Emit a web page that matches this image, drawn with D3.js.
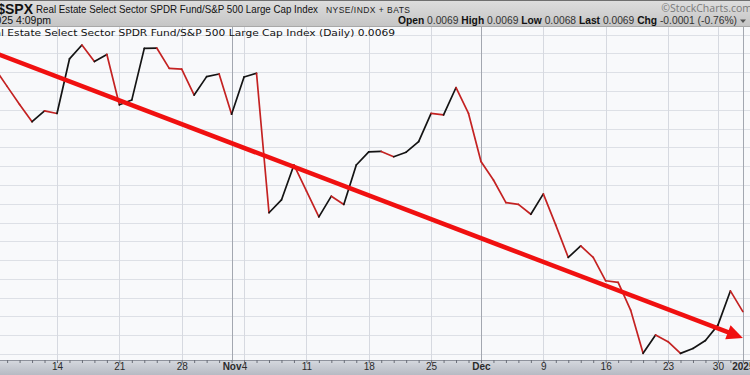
<!DOCTYPE html>
<html>
<head>
<meta charset="utf-8">
<script src="https://cdn.jsdelivr.net/npm/d3@7"></script>
<style>
  body { margin: 0; background: #fff; }
  svg { display: block; font-family: "Liberation Sans", Arial, sans-serif; }
</style>
</head>
<body>
<script>
  // trading days shown (Oct 7 2024 .. Jan 2 2025, holidays skipped)
  var dates = [
    "2024-10-07","2024-10-08","2024-10-09","2024-10-10","2024-10-11",
    "2024-10-14","2024-10-15","2024-10-16","2024-10-17","2024-10-18",
    "2024-10-21","2024-10-22","2024-10-23","2024-10-24","2024-10-25",
    "2024-10-28","2024-10-29","2024-10-30","2024-10-31","2024-11-01",
    "2024-11-04","2024-11-05","2024-11-06","2024-11-07","2024-11-08",
    "2024-11-11","2024-11-12","2024-11-13","2024-11-14","2024-11-15",
    "2024-11-18","2024-11-19","2024-11-20","2024-11-21","2024-11-22",
    "2024-11-25","2024-11-26","2024-11-27","2024-11-29",
    "2024-12-02","2024-12-03","2024-12-04","2024-12-05","2024-12-06",
    "2024-12-09","2024-12-10","2024-12-11","2024-12-12","2024-12-13",
    "2024-12-16","2024-12-17","2024-12-18","2024-12-19","2024-12-20",
    "2024-12-23","2024-12-24","2024-12-26","2024-12-27",
    "2024-12-30","2024-12-31","2025-01-02"
  ];

  // XLRE:$SPX daily close ratio
  var ratio = [
    0.007540, 0.007492, 0.007444, 0.007398, 0.007427,
    0.007420, 0.007565, 0.007602, 0.007558, 0.007577,
    0.007443, 0.007456, 0.007593, 0.007594, 0.007540,
    0.007538, 0.007469, 0.007518, 0.007525, 0.007418,
    0.007517, 0.007527, 0.007156, 0.007190, 0.007283,
    0.007214, 0.007145, 0.007200, 0.007178, 0.007283,
    0.007318, 0.007319, 0.007305, 0.007317, 0.007345,
    0.007420, 0.007416, 0.007489, 0.007420,
    0.007292, 0.007243, 0.007183, 0.007178, 0.007152,
    0.007206, 0.007123, 0.007037, 0.007068, 0.007037,
    0.006975, 0.006971, 0.006897, 0.006782, 0.006831,
    0.006813, 0.006782, 0.006795, 0.006816,
    0.006857, 0.006948, 0.006893
  ];

  // hand drawn trend arrow
  var trendDates = ["2024-10-07", "2025-01-02"];
  var trendValues = [0.007581, 0.006823];

  var tickDates = ["2024-10-14","2024-10-21","2024-10-28","2024-11-01","2024-11-04",
                   "2024-11-11","2024-11-18","2024-11-25","2024-12-02","2024-12-09",
                   "2024-12-16","2024-12-23","2024-12-30","2025-01-02"];
  var tickLabels = ["14","21","28","Nov","4","11","18","25","Dec","9","16","23","30","2025"];
  var monthStarts = ["2024-11-01","2024-12-02","2025-01-02"];

  var quoteLabels = ["Open","High","Low","Last","Chg"];
  var quoteValues = ["0.0069","0.0069","0.0068","0.0069","-0.0001 (-0.76%)"];

  var width = 750, height = 375,
      plotTop = 27, plotBottom = 360,
      gridStep = 0.00005;

  var svg = d3.select("body").append("svg")
      .attr("width", width)
      .attr("height", height);

  var defs = svg.append("defs");
  var hg = defs.append("linearGradient").attr("id", "hdr").attr("x1", 0).attr("y1", 0).attr("x2", 0).attr("y2", 1);
  hg.append("stop").attr("offset", "0%").attr("stop-color", "#dedede");
  hg.append("stop").attr("offset", "100%").attr("stop-color", "#c4c4c4");
  var ag = defs.append("linearGradient").attr("id", "axb").attr("x1", 0).attr("y1", 0).attr("x2", 0).attr("y2", 1);
  ag.append("stop").attr("offset", "0%").attr("stop-color", "#d6d9df");
  ag.append("stop").attr("offset", "100%").attr("stop-color", "#b6bac3");
  defs.append("clipPath").attr("id", "plotclip")
    .append("rect").attr("x", 0).attr("y", plotTop).attr("width", width).attr("height", plotBottom - plotTop);

  var x = d3.scalePoint()
      .domain(dates)
      .range([-5.35, 742.85]);

  var y = d3.scaleLinear()
      .domain([0.00678, 0.00763])
      .range([354.1, 34.5]);

  // plot background
  svg.append("rect")
      .attr("x", 0).attr("y", plotTop)
      .attr("width", width).attr("height", plotBottom - plotTop)
      .attr("fill", "#f8f9fb");

  var grid = svg.append("g").attr("clip-path", "url(#plotclip)");

  var hVals = d3.range(18).map(function(k) { return y.domain()[0] + k * gridStep; });
  grid.selectAll(".hgrid")
      .data(hVals)
      .enter().append("line")
      .attr("x1", 0).attr("x2", width)
      .attr("y1", function(d) { return Math.round(y(d)) + 0.5; })
      .attr("y2", function(d) { return Math.round(y(d)) + 0.5; })
      .attr("stroke", "#dde0e6");

  grid.selectAll(".vgrid")
      .data(tickDates)
      .enter().append("line")
      .attr("x1", function(d) { return Math.round(x(d)) + 0.5; })
      .attr("x2", function(d) { return Math.round(x(d)) + 0.5; })
      .attr("y1", plotTop).attr("y2", plotBottom)
      .attr("stroke", function(d) { return monthStarts.indexOf(d) >= 0 ? "#a3a7b0" : "#d6d9e0"; });

  // chart label inside the plot (left part is cropped like the original)
  svg.append("text")
      .attr("x", -19).attr("y", 36)
      .attr("font-family", "'DejaVu Sans', Verdana, sans-serif")
      .attr("font-size", 9)
      .attr("textLength", 414)
      .attr("lengthAdjust", "spacingAndGlyphs")
      .attr("fill", "#111")
      .text("Real Estate Select Sector SPDR Fund/S&P 500 Large Cap Index (Daily) 0.0069");

  // price line, black on up days, red on down days
  var plot = svg.append("g").attr("clip-path", "url(#plotclip)");
  var line = d3.line()
      .x(function(d) { return x(d.date); })
      .y(function(d) { return y(d.value); });

  var pts = dates.map(function(d, i) { return { date: d, value: ratio[i] }; });
  var segs = d3.pairs(pts);

  plot.selectAll(".seg")
      .data(segs)
      .enter().append("path")
      .attr("d", line)
      .attr("fill", "none")
      .attr("stroke", function(d) { return d[1].value >= d[0].value ? "#141414" : "#c42222"; })
      .attr("stroke-width", 1.7)
      .attr("stroke-linecap", "round");

  // trend arrow
  var x0 = x(trendDates[0]), y0 = y(trendValues[0]),
      x1 = x(trendDates[1]), y1 = y(trendValues[1]),
      ang = Math.atan2(y1 - y0, x1 - x0),
      headLen = 16, headW = 7.5,
      bx = x1 - headLen * Math.cos(ang), by = y1 - headLen * Math.sin(ang);

  plot.append("line")
      .attr("x1", x0).attr("y1", y0)
      .attr("x2", bx + 2 * Math.cos(ang)).attr("y2", by + 2 * Math.sin(ang))
      .attr("stroke", "#f01010")
      .attr("stroke-width", 4.5);

  plot.append("path")
      .attr("d", "M" + x1 + "," + y1 +
                 "L" + (bx + headW * Math.sin(ang)) + "," + (by - headW * Math.cos(ang)) +
                 "L" + (bx - headW * Math.sin(ang)) + "," + (by + headW * Math.cos(ang)) + "Z")
      .attr("fill", "#f01010");

  // x axis band
  svg.append("rect")
      .attr("x", 0).attr("y", plotBottom)
      .attr("width", width).attr("height", height - plotBottom)
      .attr("fill", "url(#axb)");
  svg.append("line")
      .attr("x1", 0).attr("x2", width)
      .attr("y1", plotBottom + 0.5).attr("y2", plotBottom + 0.5)
      .attr("stroke", "#8e929c");

  var dayTicks = svg.append("g")
      .attr("transform", "translate(0," + plotBottom + ")")
      .call(d3.axisBottom(x).tickValues(dates).tickSize(3).tickFormat(""));
  dayTicks.select(".domain").remove();
  dayTicks.selectAll("line").attr("stroke", "#6a6e78");

  var labelAxis = svg.append("g")
      .attr("transform", "translate(0," + plotBottom + ")")
      .call(d3.axisBottom(x).tickValues(tickDates).tickSize(0).tickPadding(3)
            .tickFormat(function(d) { return tickLabels[tickDates.indexOf(d)]; }));
  labelAxis.select(".domain").remove();
  labelAxis.selectAll("text")
      .attr("font-family", "'Liberation Sans', Arial, sans-serif")
      .attr("font-size", 10)
      .attr("fill", "#2b2b2b")
      .attr("font-weight", function(d) { return monthStarts.indexOf(d) >= 0 ? "bold" : "normal"; });

  // header
  svg.append("rect")
      .attr("x", 0).attr("y", 0)
      .attr("width", width).attr("height", plotTop)
      .attr("fill", "url(#hdr)");
  svg.append("line")
      .attr("x1", 0).attr("x2", width).attr("y1", 0.5).attr("y2", 0.5)
      .attr("stroke", "#6f6f6f");
  svg.append("line")
      .attr("x1", 0).attr("x2", width).attr("y1", plotTop - 0.5).attr("y2", plotTop - 0.5)
      .attr("stroke", "#a8a8a8");

  svg.append("text")
      .attr("x", 33).attr("y", 14)
      .attr("text-anchor", "end")
      .attr("font-size", 14).attr("font-weight", "bold")
      .attr("fill", "#111")
      .text("XLRE:$SPX");

  svg.append("text")
      .attr("x", 36).attr("y", 13)
      .attr("font-size", 10.5)
      .attr("textLength", 282)
      .attr("lengthAdjust", "spacingAndGlyphs")
      .attr("fill", "#111")
      .text("Real Estate Select Sector SPDR Fund/S&P 500 Large Cap Index");

  svg.append("text")
      .attr("x", 326).attr("y", 13)
      .attr("font-size", 8.5)
      .attr("textLength", 84)
      .attr("fill", "#222")
      .text("NYSE/INDX + BATS");

  svg.append("text")
      .attr("x", 752).attr("y", 12)
      .attr("text-anchor", "end")
      .attr("font-family", "'Open Sans', 'DejaVu Sans', sans-serif")
      .attr("font-size", 10.5)
      .attr("fill", "#7a7a7a")
      .text("\u00a9StockCharts.com");

  svg.append("text")
      .attr("x", 51).attr("y", 24)
      .attr("text-anchor", "end")
      .attr("font-size", 10.5)
      .attr("fill", "#111")
      .text("2-Jan-2025 4:09pm");

  var q = svg.append("text")
      .attr("x", 398).attr("y", 24)
      .attr("font-size", 10.5)
      .attr("textLength", 339)
      .attr("lengthAdjust", "spacingAndGlyphs")
      .attr("fill", "#111");
  quoteLabels.forEach(function(lab, i) {
    q.append("tspan").attr("font-weight", "bold").text((i ? " " : "") + lab + " ");
    q.append("tspan").attr("fill", "#333").text(quoteValues[i]);
  });
  svg.append("path")
      .attr("d", "M740,19.5L746,19.5L743,23Z")
      .attr("fill", "#555");
</script>
</body>
</html>
